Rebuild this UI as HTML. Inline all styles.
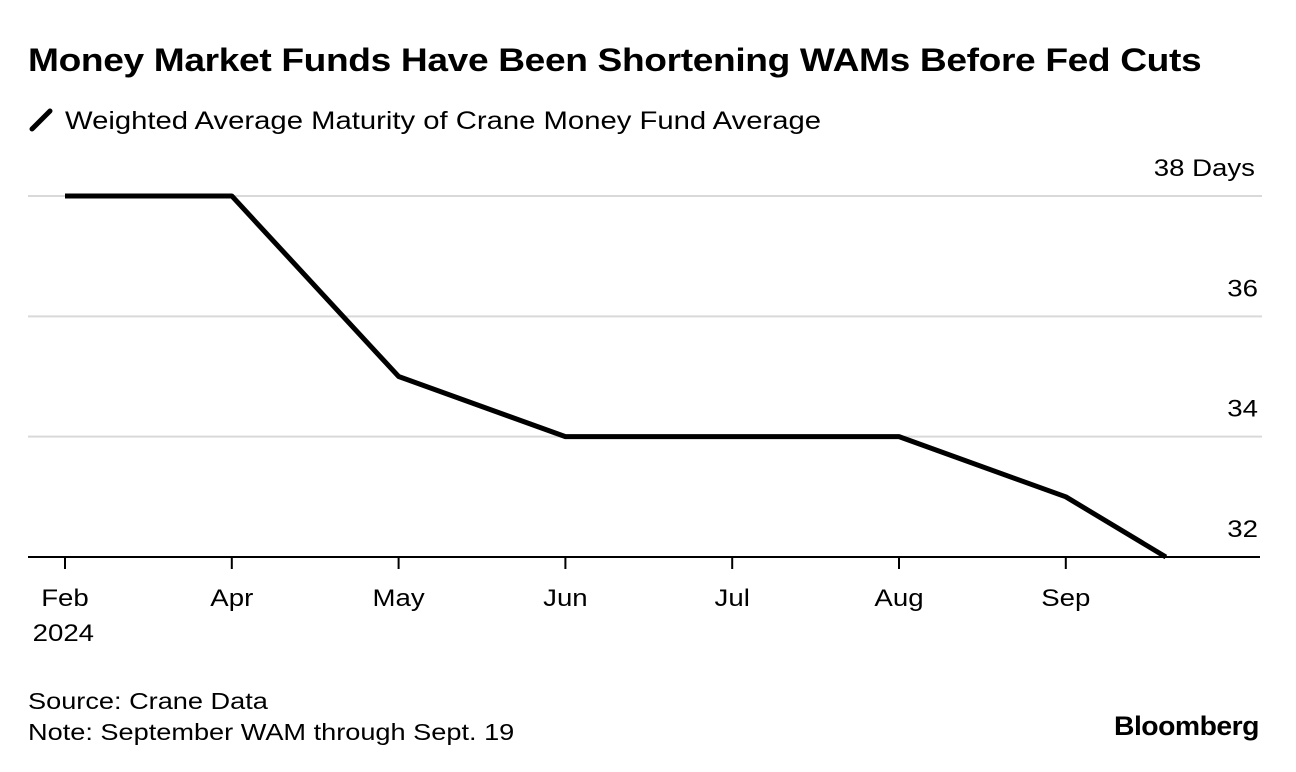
<!DOCTYPE html>
<html><head><meta charset="utf-8"><style>
body{margin:0;width:1296px;height:772px;background:#fff;font-family:"Liberation Sans",sans-serif;overflow:hidden;position:relative;color:#000}
.t{position:absolute;white-space:nowrap;transform-origin:0 0}
</style></head><body>
<div class="t" style="left:28px;top:42px;font-size:32px;font-weight:bold;letter-spacing:-0.3px;transform:scaleX(1.16)">Money Market Funds Have Been Shortening WAMs Before Fed Cuts</div>
<div class="t" style="left:28px;top:107px;font-size:25px"><svg width="30" height="26" style="vertical-align:-4px"><line x1="4" y1="22" x2="22" y2="4" stroke="#000" stroke-width="5" stroke-linecap="round"/></svg> <span style="display:inline-block;transform-origin:0 0;transform:scaleX(1.17)">Weighted Average Maturity of Crane Money Fund Average</span></div>
<svg id="chart" width="1296" height="772" style="position:absolute;left:0;top:0"></svg>
<div class="t" style="left:28px;top:686px;font-size:23px;line-height:31px;transform:scaleX(1.18)">Source: Crane Data<br>Note: September WAM through Sept. 19</div>
<div class="t" style="left:1114px;top:711px;font-size:27px;font-weight:bold;letter-spacing:-0.5px;transform:scaleX(1.05)">Bloomberg</div>
<script>
const xPos=[0,1,2,3,4,5,6,6.6];
const values=[38,38,35,34,34,34,33,32];
const tickIdx=[0,1,2,3,4,5,6];
const tickLabels=["Feb","Apr","May","Jun","Jul","Aug","Sep"];
const yTicks=[32,34,36,38];
const NS="http://www.w3.org/2000/svg";
const svg=document.getElementById('chart');
const x=i=>65+i*166.8;
const y=v=>557-(v-32)*60.17;
function mk(t,a){const e=document.createElementNS(NS,t);for(const k in a)e.setAttribute(k,a[k]);svg.appendChild(e);return e;}
function widen(t,f){const L=t.getComputedTextLength();t.setAttribute('textLength',L*f);t.setAttribute('lengthAdjust','spacingAndGlyphs');}
yTicks.forEach(v=>{
 if(v>32){const g=mk('line',{x1:28,x2:1262,y1:y(v),y2:y(v),stroke:'#d9d9d9','stroke-width':2});
 
 }
 const t=mk('text',{x:1258,y:y(v)-20,'text-anchor':'end','font-size':24,'font-family':'Liberation Sans'});
 t.textContent=v===38?'38 Days':String(v);
 if(v===38){t.setAttribute('x',1255);}
 widen(t,1.15);
 
 
});
const ax=mk('line',{x1:28,x2:1260,y1:557,y2:557,stroke:'#000','stroke-width':2});


tickIdx.forEach((i,k)=>{
 const l=mk('line',{x1:x(i),x2:x(i),y1:557,y2:569,stroke:'#000','stroke-width':2});
 
 
 const t=mk('text',{x:x(i),y:606,'text-anchor':'middle','font-size':24,'font-family':'Liberation Sans'});
 t.textContent=tickLabels[k];
 widen(t,1.15);
 
 
});
const yr=mk('text',{x:x(-0.01),y:641,'text-anchor':'middle','font-size':24,'font-family':'Liberation Sans'});
yr.textContent='2024';
widen(yr,1.15);


const p=mk('polyline',{points:xPos.map((i,k)=>x(i)+','+y(values[k])).join(' '),fill:'none',stroke:'#000','stroke-width':5,'stroke-linejoin':'round'});


</script>
</body></html>
